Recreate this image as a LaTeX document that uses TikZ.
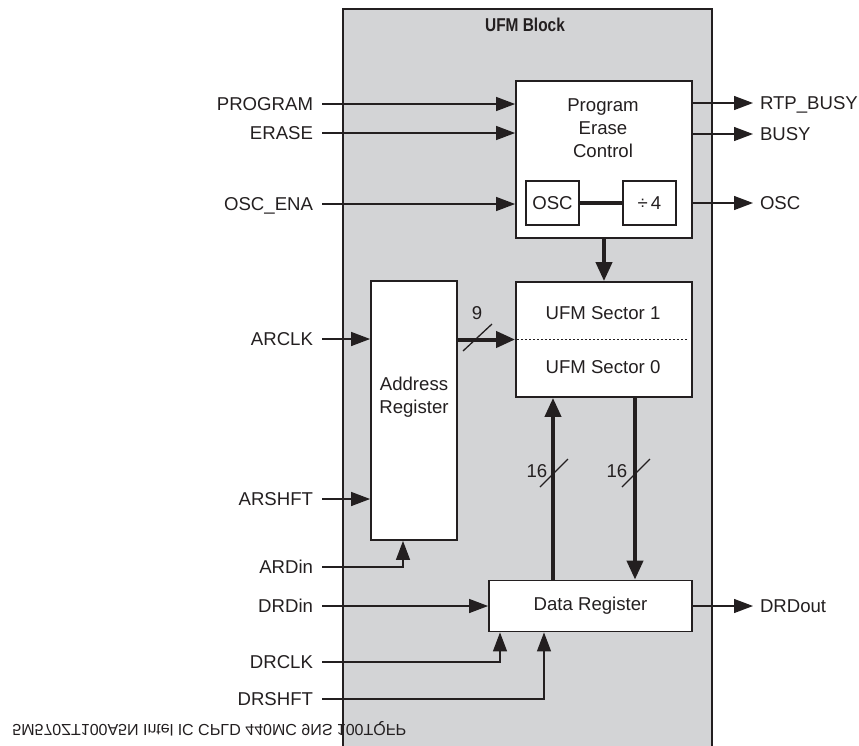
\documentclass[tikz,border=0pt]{standalone}
\usepackage{fontspec}
\setmainfont{Liberation Sans}
\usepackage{graphicx}
\usetikzlibrary{arrows.meta}
\definecolor{InkGray}{RGB}{35,31,32}
\definecolor{BlockGray}{RGB}{211,212,214}
\tikzset{
  blockbox/.style={draw=InkGray,fill=white,line width=0.9pt,inner sep=0pt},
  sig/.style={draw=InkGray,line width=0.65pt},
  sigarrow/.style={sig,-{Triangle[length=9.5pt,width=7pt]}},
  bus/.style={draw=InkGray,line width=2pt},
  busarrow/.style={bus,-{Triangle[length=9.5pt,width=8pt]}},
  txt/.style={font=\fontsize{9.3}{11.5}\selectfont,text=InkGray,align=center,inner sep=0pt},
  inpin/.style={txt,anchor=east,outer sep=4.5pt,text height=6.7pt,text depth=0pt},
  outpin/.style={txt,anchor=west,outer sep=3.5pt,text height=6.7pt,text depth=0pt}
}

\begin{document}
\begin{tikzpicture}[x=0.5pt,y=-0.5pt]
  \useasboundingbox (0,0) rectangle (859,746);
  \fill[BlockGray] (343,9) rectangle (712,746);
  \draw[InkGray,line width=0.9pt] (343,746) |- (712,9) -- (712,746);
  \node[txt,font=\fontsize{9.3}{11}\selectfont\bfseries] (title) at (525,25) {\scalebox{0.83}[1]{UFM Block}};

  \node[blockbox,minimum width=88pt,minimum height=78.5pt] (pec) at (604,159.5) {};
  \node[txt] (pectext) at (603,128) {Program\\Erase\\Control};
  \node[blockbox,txt,minimum width=26.5pt,minimum height=22pt] (oscbox) at (552.5,203) {OSC};
  \node[blockbox,txt,minimum width=26.5pt,minimum height=22pt] (divbox) at (649.5,203) {÷\,4};
  \draw[bus,line width=1.6pt] (oscbox.east) -- (divbox.west);

  \node[blockbox,minimum width=88pt,minimum height=57.5pt] (ufm) at (604,339.5) {};
  \draw[InkGray,line width=0.6pt,dash pattern=on 0.9pt off 1.1pt] ([xshift=1pt]ufm.west) -- ([xshift=-2pt]ufm.east);
  \node[txt] (sec1) at (603,313) {UFM Sector 1};
  \node[txt] (sec0) at (603,367) {UFM Sector 0};

  \node[blockbox,minimum width=43pt,minimum height=129.5pt] (ar) at (414,410.5) {};
  \node[txt] (artext) at (414,397.5) {Address\\Register};
  \node[blockbox,txt,minimum width=101.5pt,minimum height=25.5pt] (dr) at (590.5,606) {Data Register};

  \node[inpin] (prog) at (322,104) {PROGRAM};
  \node[inpin] (erase) at (322,133) {ERASE};
  \node[inpin] (oscena) at (322,204) {OSC\_ENA};
  \node[inpin] (arclk) at (322,339) {ARCLK};
  \node[inpin] (arshft) at (322,499) {ARSHFT};
  \node[inpin] (ardin) at (322,567) {ARDin};
  \node[inpin] (drdin) at (322,606) {DRDin};
  \node[inpin] (drclk) at (322,662) {DRCLK};
  \node[inpin] (drshft) at (322,699) {DRSHFT};
  \node[outpin] (rtpbusy) at (753,103) {RTP\_BUSY};
  \node[outpin] (busy) at (753,134) {BUSY};
  \node[outpin] (oscout) at (753,203) {OSC};
  \node[outpin] (drdout) at (753,606) {DRDout};

  \draw[sigarrow] (prog.east) -- (prog.east -| pec.west);
  \draw[sigarrow] (erase.east) -- (erase.east -| pec.west);
  \draw[sigarrow] (oscena.east) -- (oscena.east -| pec.west);
  \draw[sigarrow] (arclk.east) -- (arclk.east -| ar.west);
  \draw[sigarrow] (arshft.east) -- (arshft.east -| ar.west);
  \draw[sigarrow] (ardin.east) -| ([xshift=-5.5pt]ar.south);
  \draw[sigarrow] (drdin.east) -- (drdin.east -| dr.west);
  \draw[sigarrow] (drclk.east) -| ([xshift=-45.25pt]dr.south);
  \draw[sigarrow] (drshft.east) -| ([xshift=-23.25pt]dr.south);
  \draw[sigarrow] (rtpbusy.west -| pec.east) -- (rtpbusy.west);
  \draw[sigarrow] (busy.west -| pec.east) -- (busy.west);
  \draw[sigarrow] (oscout.west -| pec.east) -- (oscout.west);
  \draw[sigarrow] (drdout.west -| dr.east) -- (drdout.west);

  \coordinate (busup) at (553,480);
  \coordinate (busdn) at (635,480);
  \draw[busarrow] (pec.south) -- (ufm.north);
  \draw[busarrow] (ar.east |- ufm.center) -- (ufm.west);
  \draw[busarrow] (busup |- dr.north) -- (busup |- ufm.south);
  \draw[busarrow] (busdn |- ufm.south) -- (busdn |- dr.north);
  \draw[sig] (463,351) -- (492,324);
  \draw[sig] (540,487) -- (568,459);
  \draw[sig] (622,487) -- (650,459);
  \node[txt] (w9) at (477,313) {9};
  \node[txt] (w16up) at (537,471) {16};
  \node[txt] (w16dn) at (617,471) {16};

  \node[txt,font=\fontsize{8}{9}\selectfont,anchor=west] (partno) at (12,729) {\scalebox{1}[-1]{5M570ZT100A5N Intel IC CPLD 440MC 9NS 100TQFP}};
\end{tikzpicture}
\end{document}
